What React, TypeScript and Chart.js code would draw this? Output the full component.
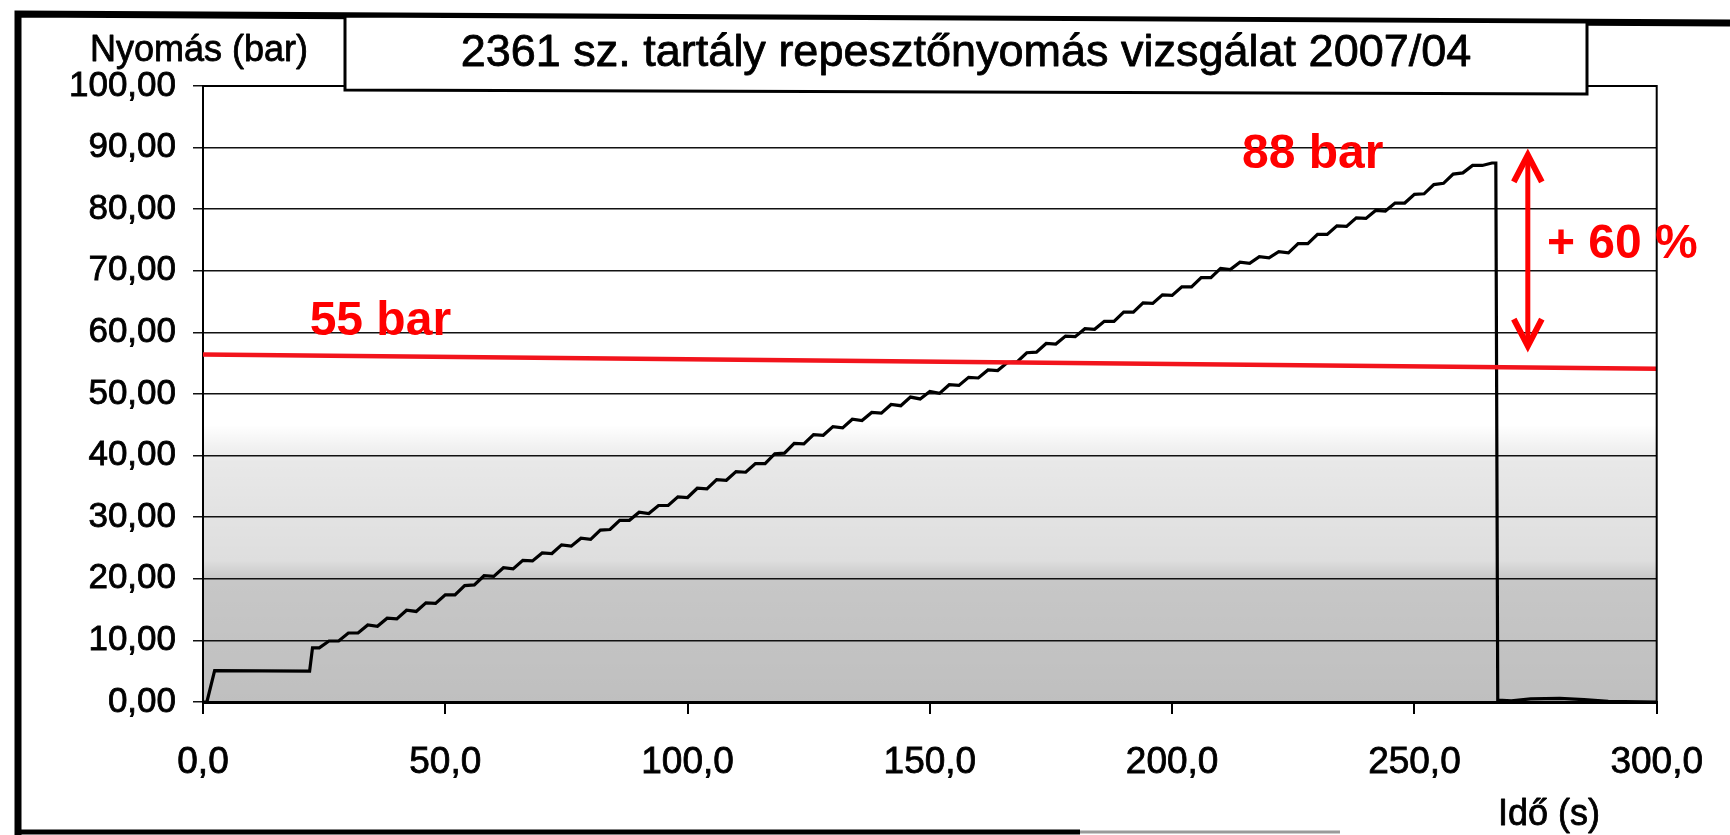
import React, { useEffect, useRef } from 'react';
import { Chart, registerables } from 'chart.js';

Chart.register(...registerables);

// ---- data ----
const timeS = [
  0, 0.8, 2.4, 22.0, 22.6,
  24, 26, 28, 30, 32, 34, 36, 38, 40, 42, 44, 46, 48, 50, 52, 54, 56, 58, 60, 62, 64, 66, 68, 70,
  72, 74, 76, 78, 80, 82, 84, 86, 88, 90, 92, 94, 96, 98, 100, 102, 104, 106, 108, 110, 112, 114,
  116, 118, 120, 122, 124, 126, 128, 130, 132, 134, 136, 138, 140, 142, 144, 146, 148, 150, 152,
  154, 156, 158, 160, 162, 164, 166, 168, 170, 172, 174, 176, 178, 180, 182, 184, 186, 188, 190,
  192, 194, 196, 198, 200, 202, 204, 206, 208, 210, 212, 214, 216, 218, 220, 222, 224, 226, 228,
  230, 232, 234, 236, 238, 240, 242, 244, 246, 248, 250, 252, 254, 256, 258, 260, 262, 264, 266,
  266.8, 267.2, 270, 274, 280, 285, 290, 300,
];
const pressureBar = [
  0, 0, 5.1, 5.0, 8.8,
  8.8, 9.9, 9.9, 11.2, 11.2, 12.5, 12.3, 13.6, 13.5, 14.9, 14.7, 16.1, 16.0, 17.4, 17.4, 18.9, 19.0, 20.5, 20.4, 21.8, 21.6, 23.0, 22.9, 24.2,
  24.1, 25.5, 25.3, 26.6, 26.4, 27.9, 28.0, 29.5, 29.5, 30.8, 30.6, 31.9, 31.9, 33.3, 33.2, 34.7, 34.6, 36.1, 36.0, 37.4, 37.3, 38.7,
  38.7, 40.3, 40.4, 42.0, 41.9, 43.4, 43.3, 44.7, 44.5, 45.9, 45.7, 47.0, 46.9, 48.3, 48.1, 49.5, 49.2, 50.4, 50.1,
  51.5, 51.4, 52.7, 52.6, 53.9, 53.8, 55.1, 55.2, 56.7, 56.8, 58.2, 58.1, 59.4, 59.3, 60.6, 60.5, 61.8, 61.8, 63.3,
  63.3, 64.8, 64.7, 66.1, 66.0, 67.4, 67.4, 68.9, 68.9, 70.4, 70.2, 71.4, 71.2, 72.3, 72.1, 73.1, 72.9, 74.4, 74.4,
  75.9, 75.9, 77.3, 77.2, 78.6, 78.5, 79.8, 79.7, 81.0, 81.0, 82.4, 82.5, 84.0, 84.2, 85.7, 85.9, 87.1, 87.1, 87.5,
  87.5, 0.3, 0.2, 0.5, 0.6, 0.4, 0.1, 0,
];
const limitLineTime = [0, 300];
const limitLineBar = [56.4, 54.1];

const xTickValues = [0, 50, 100, 150, 200, 250, 300];
const xTickLabels = ['0,0', '50,0', '100,0', '150,0', '200,0', '250,0', '300,0'];
const yTickValues = [0, 10, 20, 30, 40, 50, 60, 70, 80, 90, 100];
const yTickLabels = ['0,00', '10,00', '20,00', '30,00', '40,00', '50,00', '60,00', '70,00', '80,00', '90,00', '100,00'];

const chartTitle = '2361 sz. tartály repesztőnyomás vizsgálat 2007/04';
const yAxisTitle = 'Nyomás (bar)';
const xAxisTitle = 'Idő (s)';

const peakLabel = '88 bar';
const peakLabelAt = [229.0, 88.9];
const limitLabel = '55 bar';
const limitLabelAt = [36.6, 61.7];
const increaseLabel = '+ 60 %';
const increaseLabelAt = [292.9, 74.2];
const arrowTime = 273.4;
const arrowTopBar = 89.3;
const arrowBottomBar = 57.3;

// shading levels of the stippled background (bar)
const shadeLevels = [0, 20, 23, 39, 45];

const FONT = '"Liberation Sans", Arial, sans-serif';
const RED = '#ff0000';

function heavyText(ctx: CanvasRenderingContext2D, text: string, x: number, y: number, w: number) {
  ctx.lineWidth = w;
  ctx.strokeStyle = ctx.fillStyle as string;
  ctx.lineJoin = 'round';
  ctx.strokeText(text, x, y);
  ctx.fillText(text, x, y);
}

const decorPlugin = {
  id: 'decor',
  beforeDraw(chart: any) {
    const { ctx, chartArea, scales } = chart;
    const y = scales.y;
    const yTop = y.getPixelForValue(shadeLevels[4]);
    const yBot = y.getPixelForValue(shadeLevels[0]);
    const g = ctx.createLinearGradient(0, yBot, 0, yTop);
    const span = shadeLevels[4] - shadeLevels[0];
    g.addColorStop(0, 'rgba(0,0,0,0.25)');
    g.addColorStop(shadeLevels[1] / span, 'rgba(0,0,0,0.22)');
    g.addColorStop(shadeLevels[2] / span, 'rgba(0,0,0,0.13)');
    g.addColorStop(shadeLevels[3] / span, 'rgba(0,0,0,0.09)');
    g.addColorStop(1, 'rgba(0,0,0,0)');
    ctx.save();
    ctx.fillStyle = '#ffffff';
    ctx.fillRect(0, 0, chart.width, chart.height);
    ctx.fillStyle = g;
    ctx.fillRect(chartArea.left, yTop, chartArea.right - chartArea.left, yBot - yTop);
    ctx.restore();
  },
  afterDraw(chart: any) {
    const { ctx, chartArea, scales } = chart;
    const xs = scales.x;
    const ys = scales.y;
    ctx.save();

    // plot frame: top and right border
    ctx.strokeStyle = '#000';
    ctx.lineWidth = 2;
    ctx.beginPath();
    ctx.moveTo(chartArea.left, chartArea.top);
    ctx.lineTo(chartArea.right, chartArea.top);
    ctx.lineTo(chartArea.right, chartArea.bottom);
    ctx.stroke();

    // outer frame
    ctx.lineWidth = 7;
    ctx.beginPath();
    ctx.moveTo(18, 835);
    ctx.lineTo(18, 14);
    ctx.lineTo(1730, 23);
    ctx.stroke();
    ctx.lineWidth = 5;
    ctx.beginPath();
    ctx.moveTo(15, 832);
    ctx.lineTo(1080, 832);
    ctx.stroke();
    ctx.strokeStyle = '#9a9a9a';
    ctx.lineWidth = 3;
    ctx.beginPath();
    ctx.moveTo(1080, 832);
    ctx.lineTo(1340, 832);
    ctx.stroke();

    // title box
    ctx.fillStyle = '#fff';
    ctx.strokeStyle = '#000';
    ctx.lineWidth = 3;
    ctx.beginPath();
    ctx.moveTo(345, 16);
    ctx.lineTo(1587, 22);
    ctx.lineTo(1587, 94);
    ctx.lineTo(345, 90);
    ctx.closePath();
    ctx.fill();
    ctx.stroke();
    ctx.fillStyle = '#000';
    ctx.font = `45px ${FONT}`;
    ctx.textAlign = 'center';
    ctx.textBaseline = 'middle';
    heavyText(ctx, chartTitle, 966, 54, 0.8);

    // axis titles
    ctx.font = `36px ${FONT}`;
    ctx.textAlign = 'left';
    heavyText(ctx, yAxisTitle, 90, 51, 0.8);
    ctx.textAlign = 'center';
    heavyText(ctx, xAxisTitle, 1549, 815, 0.8);

    // red double arrow
    const ax = xs.getPixelForValue(arrowTime);
    const at = ys.getPixelForValue(arrowTopBar);
    const ab = ys.getPixelForValue(arrowBottomBar);
    ctx.strokeStyle = RED;
    ctx.lineWidth = 5;
    ctx.lineJoin = 'miter';
    ctx.beginPath();
    ctx.moveTo(ax, at + 3);
    ctx.lineTo(ax, ab - 3);
    ctx.stroke();
    ctx.lineWidth = 6;
    ctx.beginPath();
    ctx.moveTo(ax - 14, at + 30);
    ctx.lineTo(ax, at + 3);
    ctx.lineTo(ax + 14, at + 30);
    ctx.stroke();
    ctx.beginPath();
    ctx.moveTo(ax - 14, ab - 30);
    ctx.lineTo(ax, ab - 3);
    ctx.lineTo(ax + 14, ab - 30);
    ctx.stroke();

    // red labels
    ctx.fillStyle = RED;
    ctx.font = `bold 48px ${FONT}`;
    ctx.textAlign = 'center';
    ctx.textBaseline = 'middle';
    ctx.fillText(peakLabel, xs.getPixelForValue(peakLabelAt[0]), ys.getPixelForValue(peakLabelAt[1]));
    ctx.fillText(limitLabel, xs.getPixelForValue(limitLabelAt[0]), ys.getPixelForValue(limitLabelAt[1]));
    ctx.fillText(increaseLabel, xs.getPixelForValue(increaseLabelAt[0]), ys.getPixelForValue(increaseLabelAt[1]));

    ctx.restore();
  },
};

export default function App() {
  const canvasRef = useRef<HTMLCanvasElement | null>(null);

  useEffect(() => {
    document.body.style.margin = '0';
    const canvas = canvasRef.current;
    if (!canvas) return;
    const pressurePoints = timeS.map((t, i) => ({ x: t, y: pressureBar[i] }));
    const limitPoints = limitLineTime.map((t, i) => ({ x: t, y: limitLineBar[i] }));

    const chart = new Chart(canvas, {
      type: 'line',
      data: {
        datasets: [
          {
            label: '55 bar',
            data: limitPoints,
            borderColor: '#f2141c',
            borderWidth: 4.5,
            pointRadius: 0,
            tension: 0,
          },
          {
            label: 'Nyomás',
            data: pressurePoints,
            borderColor: '#000',
            borderWidth: 3.2,
            pointRadius: 0,
            tension: 0,
          },
        ],
      },
      options: {
        responsive: false,
        animation: false,
        devicePixelRatio: 1,
        layout: { padding: { top: 86, right: 73, left: 0, bottom: 0 } },
        plugins: {
          legend: { display: false },
          tooltip: { enabled: false },
          title: { display: false },
        },
        scales: {
          x: {
            type: 'linear',
            min: 0,
            max: 300,
            afterFit: (s: any) => {
              s.height = 133;
            },
            afterBuildTicks: (s: any) => {
              s.ticks = xTickValues.map((v) => ({ value: v }));
            },
            ticks: {
              autoSkip: false,
              maxRotation: 0,
              color: '#000',
              padding: 27,
              textStrokeColor: '#000',
              textStrokeWidth: 0.8,
              font: { family: FONT, size: 37 },
              callback: (v: any) => xTickLabels[xTickValues.indexOf(Number(v))],
            },
            grid: {
              drawOnChartArea: false,
              drawTicks: true,
              tickLength: 12,
              color: '#000',
              lineWidth: 2,
            },
            border: { display: true, color: '#000', width: 3 },
          },
          y: {
            min: 0,
            max: 100,
            afterFit: (s: any) => {
              s.width = 203;
            },
            afterBuildTicks: (s: any) => {
              s.ticks = yTickValues.map((v) => ({ value: v }));
            },
            ticks: {
              autoSkip: false,
              color: '#000',
              padding: 17,
              textStrokeColor: '#000',
              textStrokeWidth: 0.8,
              font: { family: FONT, size: 35 },
              callback: (v: any) => yTickLabels[yTickValues.indexOf(Number(v))],
            },
            grid: {
              drawOnChartArea: true,
              drawTicks: true,
              tickLength: 10,
              color: '#111',
              lineWidth: 1.5,
            },
            border: { display: true, color: '#000', width: 2 },
          },
        },
      },
      plugins: [decorPlugin],
    });

    return () => {
      chart.destroy();
    };
  }, []);

  return (
    <div style={{ width: 1730, height: 835 }}>
      <canvas ref={canvasRef} width={1730} height={835} style={{ display: 'block', width: 1730, height: 835 }} />
    </div>
  );
}
